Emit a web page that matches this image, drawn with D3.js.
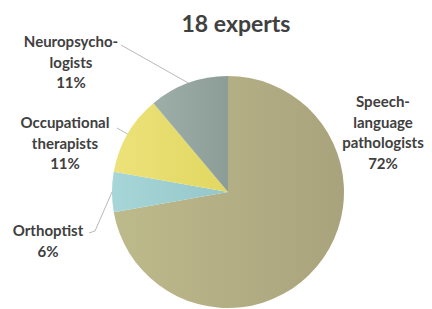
<!DOCTYPE html>
<html>
<head>
<meta charset="utf-8">
<script src="https://cdn.jsdelivr.net/npm/d3@7"></script>
<style>
  body { margin: 0; background: #fff; }
  text { font-family: Lato, "Open Sans", sans-serif; font-weight: bold; fill: #404040; }
</style>
</head>
<body>
<div id="chart"></div>
<script>
// data: number of experts per profession (18 total)
const groups = ["Speech-language pathologists", "Orthoptist", "Occupational therapists", "Neuropsychologists"];
const counts = [13, 1, 2, 2];
const pctLabels = ["72%", "6%", "11%", "11%"];
const labelLines = [["Speech-", "language", "pathologists"], ["Orthoptist"], ["Occupational", "therapists"], ["Neuropsycho-", "logists"]];
const title = "18 experts";

const width = 432, height = 309;
const cx = 228, cy = 192, radius = 116;

const svg = d3.select("#chart")
  .append("svg")
  .attr("width", width)
  .attr("height", height);

const defs = svg.append("defs");
const grads = [
  ["#bdba8b", "#a9a37d"],
  ["#a6d6d8", "#95c6c9"],
  ["#ece27a", "#e1d760"],
  ["#9eaea8", "#8c9c97"]
];
grads.forEach((g, i) => {
  const lg = defs.append("linearGradient").attr("id", "g" + i)
    .attr("x1", "0%").attr("x2", "100%").attr("y1", "0%").attr("y2", "0%");
  lg.append("stop").attr("offset", "0%").attr("stop-color", g[0]);
  lg.append("stop").attr("offset", "100%").attr("stop-color", g[1]);
});

const pie = d3.pie().sort(null).value(d => d);
const arcs = pie(counts);
const arc = d3.arc().innerRadius(0).outerRadius(radius);

const g = svg.append("g").attr("transform", `translate(${cx},${cy})`);

g.selectAll("path")
  .data(arcs)
  .join("path")
  .attr("d", arc)
  .attr("fill", (d, i) => `url(#g${i})`);

// label anchors (centre x, first line y) -- hand placed like the original
const labelPos = [[383, 107], [48, 236], [65, 128], [71, 47]];
const lineH = 20.5;

// leader lines: from label to the middle of the slice edge
const leaderFrom = [null, [[89, 233], [95, 231]], [[117, 128]], [[121, 45]]];
arcs.forEach((d, i) => {
  if (!leaderFrom[i]) return;
  const mid = (d.startAngle + d.endAngle) / 2;
  const end = [cx + radius * Math.sin(mid), cy - radius * Math.cos(mid)];
  svg.append("path")
    .attr("d", d3.line()(leaderFrom[i].concat([end])))
    .attr("fill", "none")
    .attr("stroke", "#b9b9b9")
    .attr("stroke-width", 1);
});

labelLines.forEach((lines, i) => {
  const t = svg.append("text")
    .attr("text-anchor", "middle")
    .style("font-size", "15px");
  lines.concat([pctLabels[i]]).forEach((s, j) => {
    t.append("tspan")
      .attr("x", labelPos[i][0])
      .attr("y", labelPos[i][1] + j * lineH)
      .text(s);
  });
});

svg.append("text")
  .attr("x", 236)
  .attr("y", 32)
  .attr("text-anchor", "middle")
  .style("font-size", "23px")
  .text(title);
</script>
</body>
</html>
